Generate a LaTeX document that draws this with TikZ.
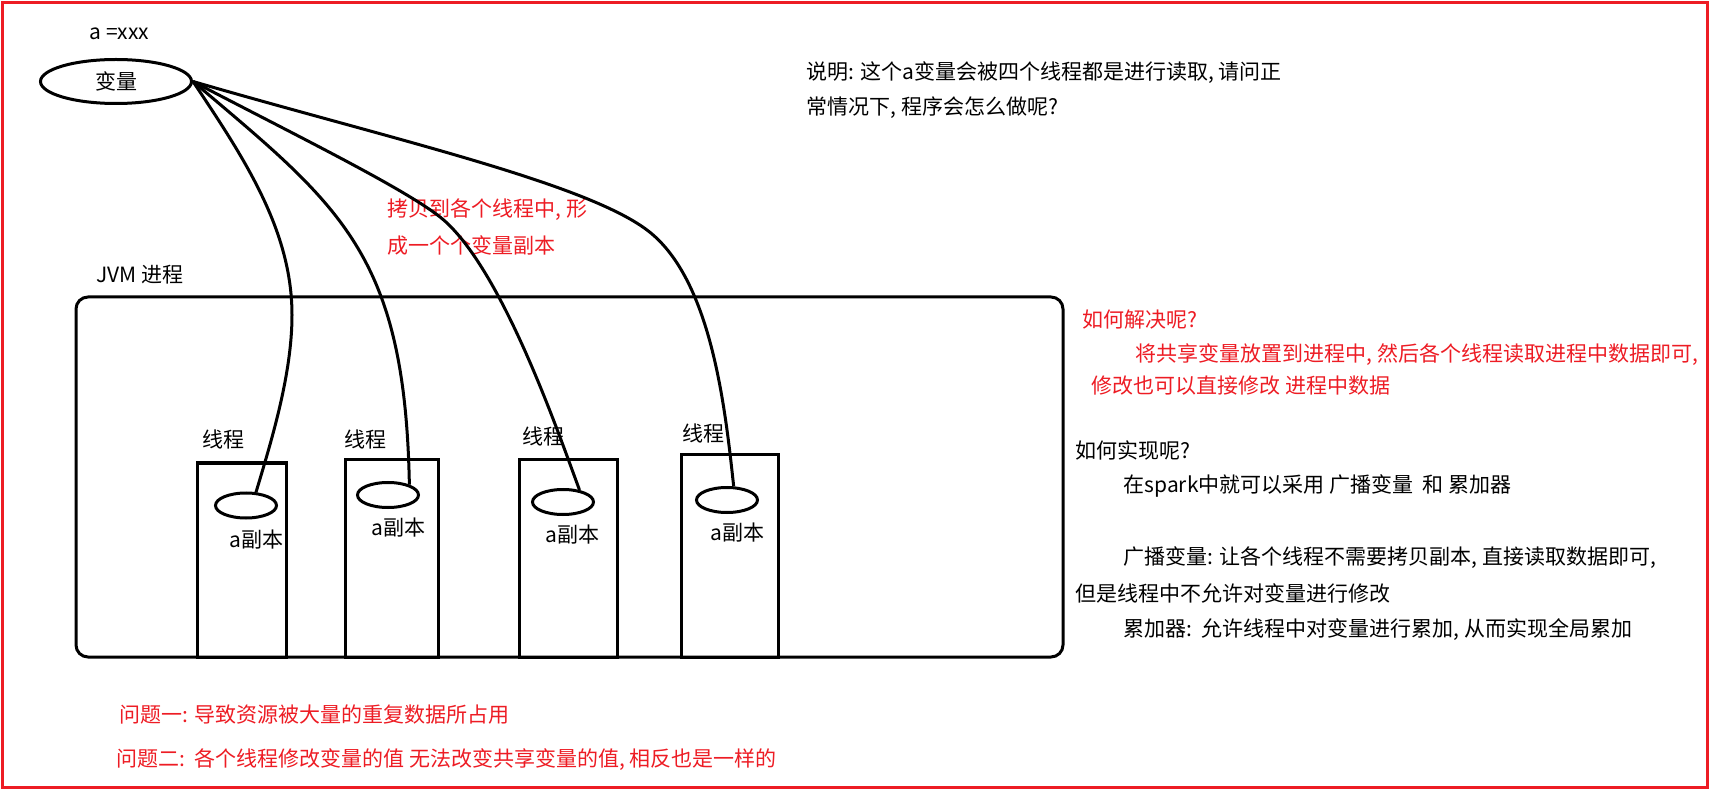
\documentclass[tikz,border=0pt]{standalone}
\usepackage{fontspec}
\setmainfont{Noto Sans CJK SC}
\usepackage{tikz}
\usetikzlibrary{shapes.geometric}
\definecolor{paintred}{RGB}{237,28,36}

\begin{document}
\begin{tikzpicture}[
    x=1pt,
    y=-1pt,
    line width=3pt,
    every node/.style={font=\fontsize{21pt}{25pt}\selectfont},
    txt/.style={anchor=west, inner sep=0pt},
    note/.style={txt, text=paintred},
    varell/.style={ellipse, draw, inner sep=0pt, minimum width=151pt, minimum height=44pt},
    replica/.style={ellipse, draw, inner sep=0pt, minimum width=61pt, minimum height=25pt},
    thread/.style={draw, anchor=north west, inner sep=0pt}
]
    \useasboundingbox (0,0) rectangle (1714,791);
    \draw[paintred, line width=2.5pt] (2.7,2.3) rectangle (1707.3,787.7);

    % The shared variable.
    \node[txt] (aval) at (88,34) {a =xxx};
    \node[varell] (a) at (116,81.5) {变量};

    \node[txt] (desc1) at (805,73) {说明: 这个a变量会被四个线程都是进行读取, 请问正};
    \node[txt] (desc2) at (805,108) {常情况下, 程序会怎么做呢?};
    \node[note] (copy1) at (386,210) {拷贝到各个线程中, 形};
    \node[note] (copy2) at (386,246) {成一个个变量副本};

    % JVM process with four threads.
    \node[txt] (jvmlabel) at (95,275) {JVM 进程};
    \node[thread, rounded corners=12pt, minimum width=987pt, minimum height=360pt] (jvm) at (74.5,295.5) {};

    \node[txt] (l1) at (201,439) {线程};
    \node[txt] (l2) at (343,439) {线程};
    \node[txt] (l3) at (521,436) {线程};
    \node[txt] (l4) at (681,433) {线程};

    \node[thread, minimum width=89pt, minimum height=194pt] (t1) at (195.5,461.5) {};
    \node[thread, minimum width=93pt, minimum height=197pt] (t2) at (343.5,458.5) {};
    \node[thread, minimum width=98pt, minimum height=197pt] (t3) at (517.5,458.5) {};
    \node[thread, minimum width=97pt, minimum height=202pt] (t4) at (679.5,453.5) {};

    \node[replica] (c1) at (246,505.5) {};
    \node[replica] (c2) at (388,495) {};
    \node[replica] (c3) at (563,502) {};
    \node[replica] (c4) at (727,500) {};

    \node[txt] (r1) at (228,540) {a副本};
    \node[txt] (r2) at (370,528) {a副本};
    \node[txt] (r3) at (544,535) {a副本};
    \node[txt] (r4) at (709,533) {a副本};

    % Copies of a into each thread.
    \coordinate (m1) at (292,315);
    \coordinate (m3) at (447,223);
    \coordinate (m4) at (647,230);
    \draw (a.east) .. controls (244,158) and (292,230) .. (m1)
                   .. controls (292,375) and (271,442) .. (c1.53);
    \draw (a.east) .. controls (340,206) and (405,253) .. (c2.26);
    \draw (a.east) .. controls (301,138) and (418,195) .. (m3)
                   .. controls (505,278) and (558,432) .. (c3.36);
    \draw (a.east) .. controls (387,138) and (583,182) .. (m4)
                   .. controls (711,278) and (725,406) .. (c4.64);

    % How to solve it.
    \node[note] (q1) at (1081,320) {如何解决呢?};
    \node[note] (q2) at (1134,355) {将共享变量放置到进程中, 然后各个线程读取进程中数据即可,};
    \node[note] (q3) at (1090,386) {修改也可以直接修改 进程中数据};

    \node[txt] (s1) at (1074,450) {如何实现呢?};
    \node[txt] (s2) at (1122,486) {在spark中就可以采用 广播变量\ \ 和 累加器};
    \node[txt] (s3) at (1122,558) {广播变量: 让各个线程不需要拷贝副本, 直接读取数据即可,};
    \node[txt] (s4) at (1074,593) {但是线程中不允许对变量进行修改};
    \node[txt] (s5) at (1122,630) {累加器:\ \ 允许线程中对变量进行累加, 从而实现全局累加};

    % Problems.
    \node[note] (p1) at (118,715) {问题一: 导致资源被大量的重复数据所占用};
    \node[note] (p2) at (115,760) {问题二:\ \ 各个线程修改变量的值 无法改变共享变量的值, 相反也是一样的};
\end{tikzpicture}
\end{document}
